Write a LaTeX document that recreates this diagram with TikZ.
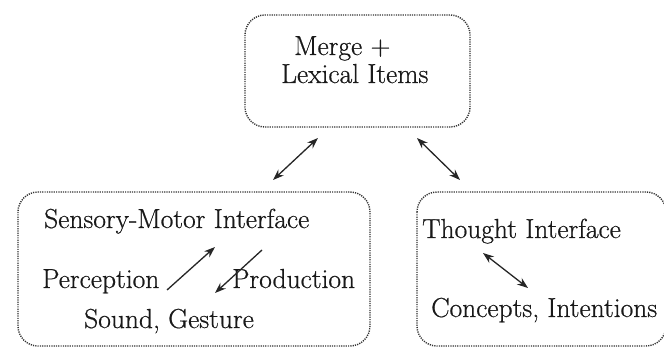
\documentclass[tikz,border=0pt]{standalone}
\usepackage{fontspec}
\newfontfamily\lmbfont{Latin Modern Roman}[FakeBold=0.6]
\usetikzlibrary{arrows.meta}
\begin{document}
\begin{tikzpicture}[x=1pt,y=-1pt,
  box/.style={draw=black!80, line width=1.4pt, dash pattern=on 1.2pt off 1.1pt, rounded corners=20pt},
  lbl/.style={anchor=base west, inner sep=0pt, font=\lmbfont\fontsize{27.5}{31}\selectfont, text=black!90},
  arr/.style={line width=1.3pt, draw=black!85, -{Stealth[length=11pt,width=8pt]}},
  darr/.style={line width=1.3pt, draw=black!85, {Stealth[length=11pt,width=8pt]}-{Stealth[length=11pt,width=8pt]}}]
\useasboundingbox (0,0) rectangle (664,347);
\fill[white] (0,0) rectangle (664,347);
% boxes
\draw[box] (245,15) rectangle (470,127);
\draw[box] (18,192) rectangle (370,346);
\draw[box] (417,192) rectangle (666,346);
% texts
\node[lbl] (merge) at (294,55) {Merge +};
\node[lbl] (lex) at (281,83) {Lexical Items};
\node[lbl] (smi) at (44,228) {Sensory-Motor Interface};
\node[lbl] (perc) at (42,288) {Perception};
\node[lbl] (prod) at (232,288) {Production};
\node[lbl] (sound) at (84,328) {Sound, Gesture};
\node[lbl] (thi) at (422,238) {Thought Interface};
\node[lbl] (conc) at (431,317) {Concepts, Intentions};
% arrow ends
\coordinate (a1) at (273,180);
\coordinate (a2) at (318,138);
\coordinate (b1) at (417,138);
\coordinate (b2) at (460,180);
\coordinate (c1) at (167,290);
\coordinate (c2) at (215,247);
\coordinate (d1) at (262,250);
\coordinate (d2) at (215,293);
\coordinate (e1) at (483,253);
\coordinate (e2) at (528,288);
\draw[darr] (a1) -- (a2);
\draw[darr] (b1) -- (b2);
\draw[arr] (c1) -- (c2);
\draw[arr] (d1) -- (d2);
\draw[darr] (e1) -- (e2);
\end{tikzpicture}
\end{document}
